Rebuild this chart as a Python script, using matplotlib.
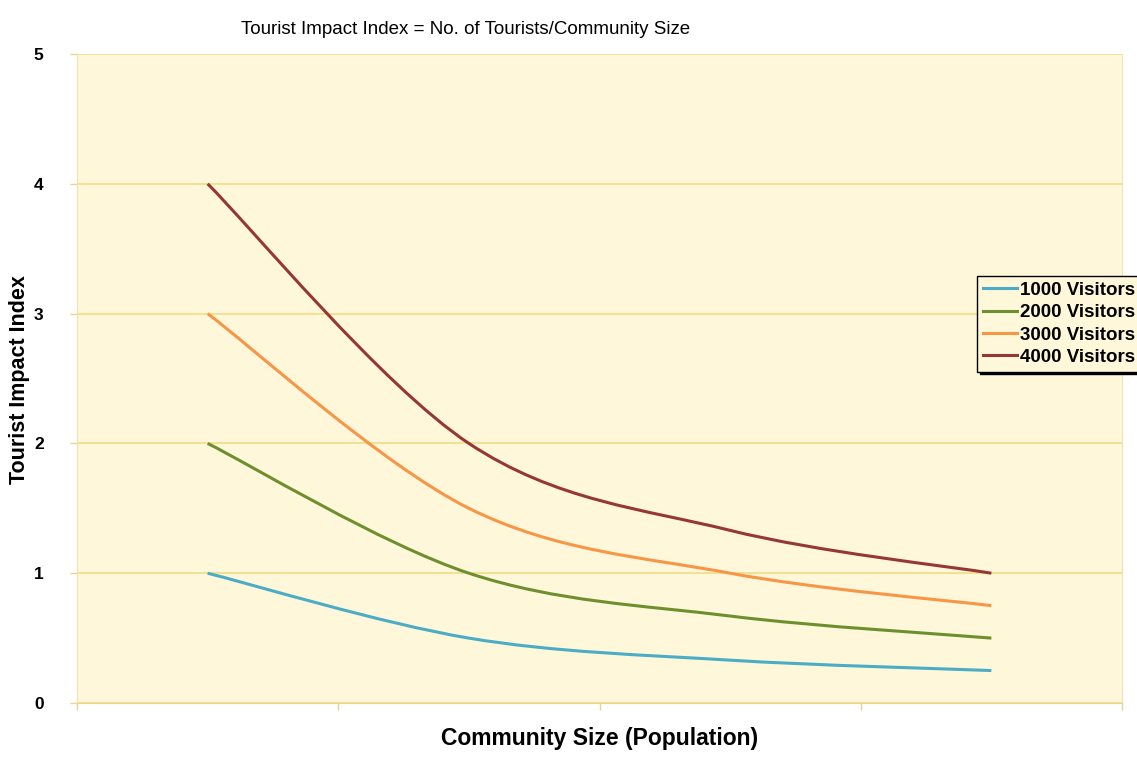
import numpy as np
import matplotlib.pyplot as plt
from matplotlib.path import Path
from matplotlib.patches import PathPatch
from matplotlib.lines import Line2D

plt.rcParams['font.family'] = ['Liberation Sans', 'DejaVu Sans']

# community size categories (no labels shown on the axis)
community_sizes = [1000, 2000, 3000, 4000]
visitors_1000 = [1.0, 0.5, 0.33, 0.25]
visitors_2000 = [2.0, 1.0, 0.67, 0.5]
visitors_3000 = [3.0, 1.5, 1.0, 0.75]
visitors_4000 = [4.0, 2.0, 1.33, 1.0]
series_names = ["1000 Visitors", "2000 Visitors", "3000 Visitors", "4000 Visitors"]
colors = ["#4BACC6", "#6E8F2E", "#F79646", "#953735"]


def smooth_path(xs, ys):
    # excel-like smoothed line: cubic bezier segments through each point
    pts = np.column_stack([xs, ys])
    n = len(pts)
    verts = [pts[0]]
    codes = [Path.MOVETO]
    for i in range(n - 1):
        p0 = pts[max(i - 1, 0)]
        p1 = pts[i]
        p2 = pts[i + 1]
        p3 = pts[min(i + 2, n - 1)]
        c1 = p1 + (p2 - p0) / 6.0
        c2 = p2 - (p3 - p1) / 6.0
        verts += [c1, c2, p2]
        codes += [Path.CURVE4] * 3
    return Path(verts, codes)


fig = plt.figure(figsize=(11.37, 7.76), dpi=100)
ax = fig.add_axes([77 / 1137, 73 / 776, (1122 - 77) / 1137, (703 - 54) / 776])
ax.set_facecolor("#FEF7DA")

x = np.arange(len(community_sizes)) + 0.5
all_series = [visitors_1000, visitors_2000, visitors_3000, visitors_4000]
for ys, c in zip(all_series, colors):
    ax.add_patch(PathPatch(smooth_path(x, ys), facecolor="none", edgecolor=c,
                           lw=2.2, capstyle="butt", zorder=3))

ax.set_xlim(0, 4)
ax.set_ylim(0, 5)
ax.set_xticks(range(5))
ax.set_xticklabels([])
ax.set_yticks(range(6))
ax.set_yticklabels([str(v) for v in range(6)], fontsize=12.5, fontweight="bold")
ax.yaxis.grid(True, color="#F2DC86", lw=1.2)
ax.set_axisbelow(True)
ax.tick_params(axis="both", color="#E8D48A", length=5, width=1, direction="out", pad=19)
for s in ax.spines.values():
    s.set_color("#EFE3B0")
ax.spines["bottom"].set_color("#E8D48A")
ax.spines["top"].set_visible(False)

fig.text(20 / 1137, 1 - 380 / 776, "Tourist Impact Index", rotation=90, ha="center",
         va="center", fontsize=15.5, fontweight="bold")
fig.text(600 / 1137, 1 - 738 / 776, "Community Size (Population)", ha="center",
         va="center", fontsize=16.5, fontweight="bold")
fig.text(466 / 1137, 1 - 29 / 776, "Tourist Impact Index = No. of Tourists/Community Size",
         ha="center", va="center", fontsize=13.5)

handles = [Line2D([], [], color=c, lw=2.2) for c in colors]
leg = fig.legend(handles, series_names, loc="upper left",
                 bbox_to_anchor=(977 / 1137, 1 - 276 / 776),
                 prop={"weight": "bold", "size": 13.5}, frameon=True, fancybox=False,
                 shadow={"color": "black", "alpha": 1.0}, handlelength=1.85, handletextpad=0.15,
                 labelspacing=0.28, borderpad=0.3, borderaxespad=0)
leg.get_frame().set_facecolor("#FEF7DA")
leg.get_frame().set_edgecolor("black")
leg.get_frame().set_alpha(1.0)

plt.savefig("out.png", dpi=100)
